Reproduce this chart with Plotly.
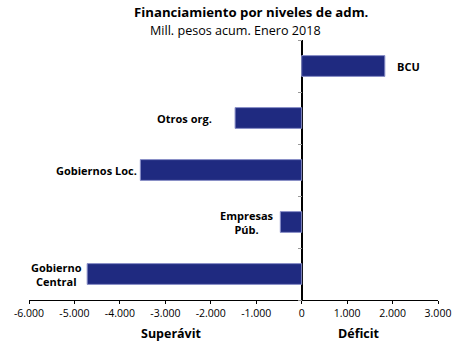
import plotly.graph_objects as go

# Financing by administration level (millions of pesos, accumulated, January 2018)
categories = ["Gobierno Central", "Empresas Púb.", "Gobiernos Loc.", "Otros org.", "BCU"]
label_text = ["Gobierno<br>Central", "Empresas<br>Púb.", "Gobiernos Loc.", "Otros org.", "BCU"]
values = [-4720, -470, -3550, -1465, 1830]
label_gap = [3, 4, 1, 21, 10]

x_ticks = [-6000, -5000, -4000, -3000, -2000, -1000, 0, 1000, 2000, 3000]
x_tick_text = ["-6.000", "-5.000", "-4.000", "-3.000", "-2.000", "-1.000", "0",
               "1.000", "2.000", "3.000"]

FONT = "Open Sans"
NAVY = "#1f2a80"
INK = "#000000"

fig = go.Figure()
fig.add_trace(go.Bar(
    y=categories,
    x=values,
    orientation="h",
    width=0.4,
    marker=dict(color=NAVY, line=dict(color="#8a90c8", width=1)),
    hoverinfo="x+y",
))

# category labels placed beside the bar ends
for cat, txt, v, g in zip(categories, label_text, values, label_gap):
    fig.add_annotation(
        x=v, y=cat, text=f"<b>{txt}</b>", showarrow=False,
        xanchor="left" if v > 0 else "right",
        xshift=g if v > 0 else -g,
        align="center",
        font=dict(family=FONT, size=11, color=INK),
    )

# title and subtitle
fig.add_annotation(
    x=251, y=12, xref="paper", yref="paper", text="<b>Financiamiento por niveles de adm.</b>",
    showarrow=False, font=dict(family=FONT, size=13.2, color=INK), borderpad=0,
)
fig.add_annotation(
    x=236, y=30.5, xref="paper", yref="paper", text="Mill. pesos acum. Enero 2018",
    showarrow=False, font=dict(family=FONT, size=12.6, color=INK), borderpad=0,
)

# axis side captions
for txt, xc in [("Superávit", 171), ("Déficit", 359)]:
    fig.add_annotation(
        x=xc, y=333, xref="paper", yref="paper", text=f"<b>{txt}</b>",
        showarrow=False, font=dict(family=FONT, size=12.5, color=INK),
    )

# convert pixel-placed annotations into paper coordinates
W, H = 454, 345
L, R, T, B = 29, 16, 40, 45
pw, ph = W - L - R, H - T - B
for ann in fig.layout.annotations:
    if ann.xref == "paper":
        ann.x = (ann.x - L) / pw
        ann.y = 1 - (ann.y - T) / ph
        ann.yanchor = "middle"
        ann.xanchor = "center"

fig.update_layout(
    width=W, height=H,
    margin=dict(l=L, r=R, t=T, b=B, autoexpand=False),
    paper_bgcolor="white", plot_bgcolor="white",
    showlegend=False,
    font=dict(family=FONT, size=11, color=INK),
    xaxis=dict(
        range=[-6000, 3000],
        tickvals=x_ticks, ticktext=x_tick_text,
        showgrid=False, automargin=False,
        showline=True, linecolor="black", linewidth=1,
        ticks="outside", ticklen=3, tickcolor="black",
        zeroline=True, zerolinecolor="black", zerolinewidth=1.5,
        tickfont=dict(family=FONT, size=10.5, color=INK),
    ),
    yaxis=dict(
        categoryorder="array", categoryarray=categories,
        range=[-0.5, 4.5],
        showticklabels=False, showgrid=False, showline=False,
        anchor="free", position=6000 / 9000, automargin=False,
        ticks="outside", ticklen=4, tickcolor="#999999",
        tickson="boundaries",
    ),
)

fig.write_html("out.html")
